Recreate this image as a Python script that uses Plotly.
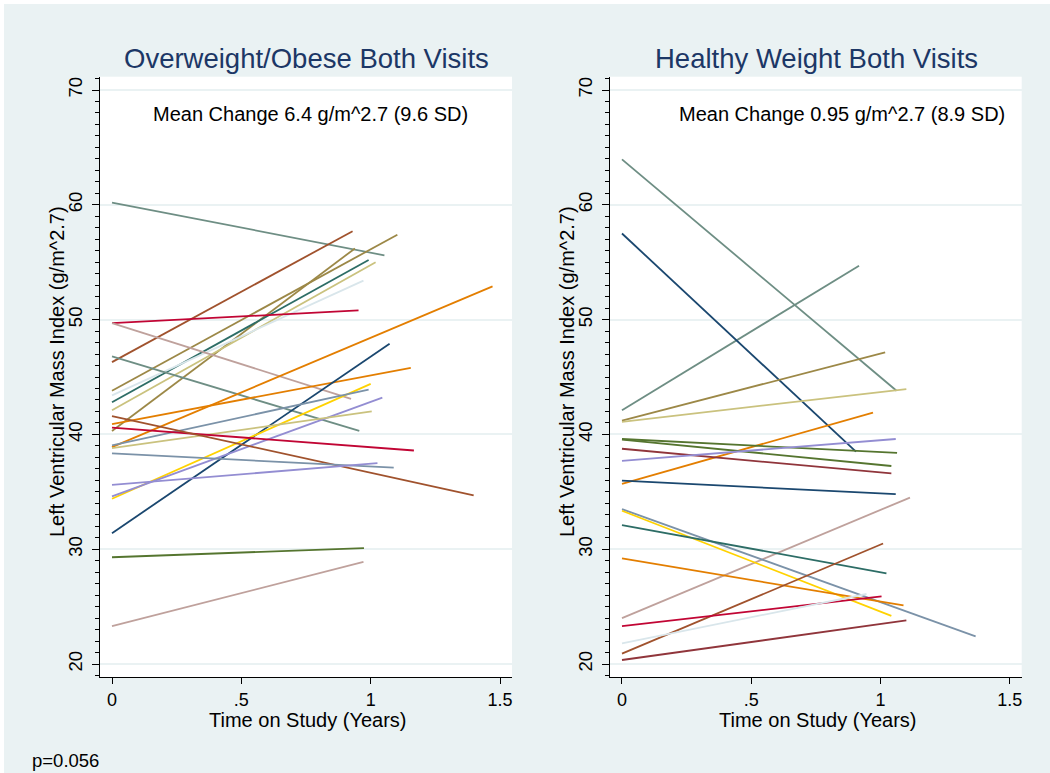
import plotly.graph_objects as go

# ---------------- data ----------------
# Overweight/Obese Both Visits: each subject's LVMI at baseline (t=0) and follow-up
ow_y0 = [60.2, 46.3, 43.8, 40.3, 42.8, 42.1, 43.4, 49.7, 49.7, 46.8, 38.9, 40.9,
         31.4, 34.4, 39.05, 34.6, 38.8, 40.6, 41.6, 38.35, 35.6, 29.3, 23.3]
ow_t1 = [1.053, 0.930, 1.103, 0.939, 0.992, 1.019, 0.972, 0.953, 0.924, 0.956, 1.471, 1.155,
         1.073, 1.000, 0.992, 1.045, 1.004, 1.167, 1.398, 1.089, 1.026, 0.974, 0.972]
ow_y1 = [55.6, 57.7, 57.4, 56.2, 55.2, 55.0, 53.4, 50.8, 43.1, 40.3, 52.9, 45.8,
         47.9, 44.4, 43.9, 43.2, 42.0, 38.6, 34.7, 37.1, 37.5, 30.1, 28.9]
ow_col = ["teal", "sienna", "brown", "brown", "emerald", "khaki", "bluishgray", "cranberry",
          "erose", "teal", "dkorange", "dkorange", "navy", "gold", "emidblue", "lavender",
          "khaki", "cranberry", "sienna", "emidblue", "lavender", "forest_green", "erose"]

# Healthy Weight Both Visits
hw_y0 = [63.96, 42.1, 57.5, 41.2, 41.1, 35.7, 39.6, 39.55, 38.75, 37.7, 35.97, 24.0,
         33.5, 33.35, 32.1, 29.2, 20.9, 23.3, 21.8, 20.35]
hw_t1 = [1.062, 0.917, 0.905, 1.018, 1.100, 0.971, 1.064, 1.042, 1.042, 1.059, 1.059, 1.114,
         1.368, 1.042, 1.023, 1.089, 1.010, 1.004, 0.946, 1.100]
hw_y1 = [43.8, 54.7, 38.5, 47.15, 43.95, 41.9, 38.4, 37.25, 36.6, 39.6, 34.8, 34.5,
         22.4, 24.2, 27.9, 25.1, 30.5, 25.9, 26.1, 23.8]
hw_col = ["teal", "teal", "navy", "brown", "khaki", "dkorange", "forest_green", "forest_green",
          "maroon", "lavender", "navy", "erose", "emidblue", "gold", "emerald", "dkorange",
          "sienna", "cranberry", "bluishgray", "maroon"]

panel_titles = ["Overweight/Obese Both Visits", "Healthy Weight Both Visits"]
panel_notes = ["Mean Change 6.4 g/m^2.7 (9.6 SD)", "Mean Change 0.95 g/m^2.7 (8.9 SD)"]
x_ticks = [0, 0.5, 1, 1.5]
x_tick_text = ["0", ".5", "1", "1.5"]
y_tick0, y_dtick, y_minor_dtick = 0, 10, 1
x_title = "Time on Study (Years)"
y_title = "Left Ventricular Mass Index (g/m^2.7)"
p_text = "p=0.056"

# ---------------- style ----------------
PALETTE = {
    "navy": "#1a476f", "maroon": "#90353b", "forest_green": "#55752f",
    "dkorange": "#e37e00", "teal": "#6e8e84", "cranberry": "#c10534",
    "lavender": "#938dd2", "khaki": "#cac27e", "sienna": "#a0522d",
    "emidblue": "#7b92a8", "emerald": "#2d6d66", "brown": "#9c8847",
    "erose": "#bfa19c", "gold": "#ffd200", "bluishgray": "#d9e6eb",
}
BG = "#EAF2F3"
FONT = "Liberation Sans, Arial, Helvetica, sans-serif"
W, H = 1050, 773

fig = go.Figure()

for y0s, t1s, y1s, cols, xa, ya in [(ow_y0, ow_t1, ow_y1, ow_col, "x", "y"),
                                    (hw_y0, hw_t1, hw_y1, hw_col, "x2", "y2")]:
    for y0, t1, y1, c in zip(y0s, t1s, y1s, cols):
        fig.add_trace(go.Scatter(x=[0, t1], y=[y0, y1], mode="lines",
                                 line=dict(color=PALETTE[c], width=1.8),
                                 xaxis=xa, yaxis=ya, showlegend=False,
                                 hoverinfo="skip"))

# empty traces so the overlay axes carrying the minor ticks are drawn
fig.add_trace(go.Scatter(x=[], y=[], xaxis="x", yaxis="y3", showlegend=False,
                         hoverinfo="skip"))
fig.add_trace(go.Scatter(x=[], y=[], xaxis="x2", yaxis="y4", showlegend=False,
                         hoverinfo="skip"))

# geometry (pixels)
plot_top, plot_bot = 76.7, 677.0
left_dom = (100 / W, 512 / W)
right_dom = (610 / W, 1021.7 / W)
ydom = ((H - plot_bot) / H, (H - plot_top) / H)
xrange = [-0.0464, 1.5462]
yrange = [18.87, 71.16]

def xaxis(dom, anchor):
    return dict(domain=list(dom), anchor=anchor, range=xrange, tickmode="array",
                tickvals=x_ticks, ticktext=x_tick_text, ticks="outside", ticklen=6,
                tickwidth=1.2, tickcolor="black", showline=True, linecolor="black",
                linewidth=1.2, showgrid=False, zeroline=False,
                tickfont=dict(family=FONT, size=18, color="black"))

def yaxis(anchor):
    return dict(domain=list(ydom), anchor=anchor, range=yrange, tickmode="linear",
                tick0=y_tick0, dtick=y_dtick,
                ticks="outside", ticklen=7, tickwidth=1.2, tickcolor="black",
                showline=True, linecolor="black", linewidth=1.2,
                showgrid=True, gridcolor=BG, gridwidth=2, zeroline=False,
                tickangle=-90, ticklabelstandoff=3,
                tickfont=dict(family=FONT, size=18.5, color="black"))

def yminor(overlay, anchor):
    return dict(domain=list(ydom), anchor=anchor, overlaying=overlay, range=yrange,
                tickmode="linear", tick0=y_tick0, dtick=y_minor_dtick,
                ticks="outside", ticklen=4, tickwidth=1, tickcolor="black",
                showticklabels=False, showline=False, showgrid=False, zeroline=False)

fig.update_layout(
    width=W, height=H, margin=dict(l=0, r=0, t=0, b=0),
    paper_bgcolor=BG, plot_bgcolor="white",
    xaxis=xaxis(left_dom, "y"), yaxis=yaxis("x"),
    xaxis2=xaxis(right_dom, "y2"), yaxis2=yaxis("x2"),
    yaxis3=yminor("y", "x"), yaxis4=yminor("y2", "x2"),
    font=dict(family=FONT, color="black"),
)

ann = []
title_cx = [306 / W, 816 / W]
note_cx = [310 / W, 842 / W]
xt_cx = [308 / W, 818 / W]
yt_cx = [57 / W, 567 / W]
for i in range(2):
    ann.append(dict(text=panel_titles[i], x=title_cx[i], y=(H - 58) / H, xref="paper",
                    yref="paper", showarrow=False, xanchor="center", yanchor="middle",
                    font=dict(family=FONT, size=27.5, color="#1c3766")))
    ann.append(dict(text=panel_notes[i], x=note_cx[i], y=(H - 114) / H, xref="paper",
                    yref="paper", showarrow=False, xanchor="center", yanchor="middle",
                    font=dict(family=FONT, size=20, color="black")))
    ann.append(dict(text=x_title, x=xt_cx[i], y=(H - 720) / H, xref="paper",
                    yref="paper", showarrow=False, xanchor="center", yanchor="middle",
                    font=dict(family=FONT, size=20, color="black")))
    ann.append(dict(text=y_title, x=yt_cx[i], y=(H - 372) / H, xref="paper",
                    yref="paper", showarrow=False, xanchor="center", yanchor="middle",
                    textangle=-90, font=dict(family=FONT, size=20, color="black")))
ann.append(dict(text=p_text, x=30 / W, y=(H - 760) / H, xref="paper", yref="paper",
                showarrow=False, xanchor="left", yanchor="middle",
                font=dict(family=FONT, size=18.5, color="black")))
fig.update_layout(annotations=ann)

# thin white border at left and top edges
fig.update_layout(shapes=[
    dict(type="rect", xref="paper", yref="paper", x0=0, x1=4 / W, y0=0, y1=1,
         fillcolor="white", line_width=0, layer="below"),
    dict(type="rect", xref="paper", yref="paper", x0=0, x1=1, y0=1 - 4 / H, y1=1,
         fillcolor="white", line_width=0, layer="below"),
])

fig.write_html("out.html")
